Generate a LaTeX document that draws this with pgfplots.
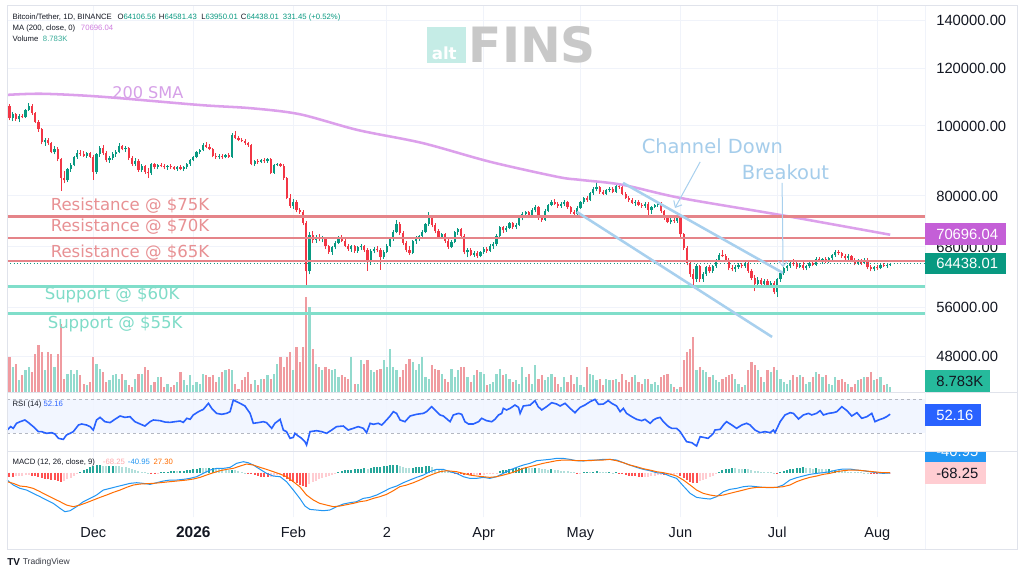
\documentclass[border=0pt]{standalone}
\usepackage{fontspec}
\setmainfont{Liberation Sans}
\newfontfamily\dv{DejaVu Sans}
\usepackage{pgfplots}
\pgfplotsset{compat=1.18}
\usepackage{pgfplotstable}
\usetikzlibrary{arrows.meta}

\definecolor{up}{RGB}{8,153,129}
\definecolor{dn}{RGB}{242,54,69}
\definecolor{vup}{RGB}{146,218,205}
\definecolor{vdn}{RGB}{240,155,160}
\definecolor{txt}{RGB}{19,23,34}
\definecolor{gridc}{RGB}{240,243,250}
\definecolor{framec}{RGB}{224,227,235}
\definecolor{sma}{RGB}{220,160,235}
\definecolor{smatxt}{RGB}{214,160,232}
\definecolor{smabox}{RGB}{196,95,215}
\definecolor{res}{RGB}{229,132,137}
\definecolor{restxt}{RGB}{232,145,148}
\definecolor{sup}{RGB}{128,222,202}
\definecolor{suptxt}{RGB}{128,220,200}
\definecolor{chan}{RGB}{168,208,238}
\definecolor{chantxt}{RGB}{165,205,235}
\definecolor{rsiband}{RGB}{240,245,255}
\definecolor{rsiline}{RGB}{41,98,255}
\definecolor{bandline}{RGB}{180,184,194}
\definecolor{macdc}{RGB}{33,150,243}
\definecolor{sigc}{RGB}{255,109,0}
\definecolor{hA}{RGB}{38,166,154}
\definecolor{hB}{RGB}{178,223,219}
\definecolor{hC}{RGB}{255,82,82}
\definecolor{hD}{RGB}{255,205,210}
\definecolor{volbox}{RGB}{38,186,156}
\definecolor{logobox}{RGB}{197,236,230}
\definecolor{logotxt}{RGB}{200,200,200}

\pgfplotstableread{
d o h l c v
-26 106500 107200 101800 102600 58
-25 102600 104500 101500 103900 42
-24 103900 104200 101700 102100 46
-23 102100 103800 101200 103300 20
-22 103300 104000 102400 102800 28
-21 102800 105600 102500 105200 37
-20 105200 107500 104800 106600 42
-19 106600 107100 103600 104100 33
-18 104100 104600 100900 101400 63
-17 101400 102000 98200 98900 78
-16 98900 99400 94300 94900 66
-15 94900 96300 93900 95700 37
-14 95700 96100 94200 94600 66
-13 94600 95000 91600 92100 63
-12 92100 93800 91300 93000 42
-11 93000 93400 89300 89900 63
-10 89900 90400 81300 84700 113
-9 84700 86600 83300 84100 22
-8 84100 87500 83600 87100 30
-7 87100 88800 86400 88400 37
-6 88400 90800 87900 90500 30
-5 90500 92600 90000 91800 37
-4 91800 92500 90800 91400 28
-3 91400 92200 90600 91000 13
-2 91000 92000 90400 91600 12
-1 91600 92100 90300 90700 17
0 90700 91200 84300 86300 58
1 86300 91800 85900 91300 46
2 91300 93700 90600 93200 38
3 93200 94000 91200 91700 33
4 91700 92300 89100 89600 17
5 89600 90900 89000 90400 20
6 90400 92000 89800 91500 28
7 91500 92500 90700 92100 30
8 92100 94700 91600 93700 22
9 93700 94200 92500 93000 30
10 93000 93800 92000 93300 20
11 93300 93600 89700 90200 12
12 90200 90900 88100 88600 8
13 88600 90200 88000 89500 22
14 89500 89900 86400 86900 30
15 86900 88600 86300 87900 30
16 87900 88300 85900 86400 42
17 86400 87400 84700 86000 37
18 86000 88900 85600 88500 12
19 88500 88900 87300 87800 17
20 87800 88600 87100 88200 25
21 88200 89000 87600 88000 25
22 88000 88500 87200 87700 8
23 87700 88400 87000 87900 13
24 87900 88700 87300 87600 8
25 87600 88100 86900 87300 12
26 87300 88000 86700 87700 17
27 87700 88200 86800 87200 33
28 87200 88000 86600 87800 20
29 87800 88900 87300 88600 12
30 88600 90100 88100 89800 28
31 89800 91000 89300 90600 12
32 90600 92300 90200 91900 17
33 91900 93000 91400 92600 13
34 92600 94700 92200 94200 30
35 94200 95000 93100 93600 28
36 93600 94300 92500 92900 25
37 92900 93300 90500 91000 28
38 91000 91600 90000 90500 17
39 90500 91400 89900 90900 25
40 90900 91300 90100 90500 33
41 90500 91500 90200 91100 37
42 91100 91600 90300 90700 38
43 90700 97800 90400 97000 37
44 97000 98400 95900 96300 13
45 96300 96800 95200 95700 5
46 95700 96300 95000 95400 20
47 95400 95900 94200 94600 25
48 94600 95100 93600 94000 33
49 94000 94300 88200 88600 13
50 88600 89800 88000 89400 20
51 89400 90000 88700 89100 12
52 89100 90100 88800 89800 22
53 89800 90200 89000 89300 22
54 89300 90400 89000 90000 28
55 90000 90300 85700 86200 22
56 86200 88600 85900 88300 30
57 88300 89000 87900 88500 46
58 88500 88900 87800 88100 58
59 88100 88500 84300 84700 42
60 84700 85100 79200 79600 58
61 79600 80400 77100 77600 66
62 77600 79300 76700 78400 37
63 78400 78900 75900 76400 75
64 76400 77100 75600 76000 50
65 76000 76400 72900 73400 75
66 73400 73900 60200 62900 158
67 62900 71400 62300 70700 141
68 70700 71600 68800 69500 71
69 69500 70700 68900 70300 46
70 70300 70800 69200 69700 42
71 69700 70400 69000 69900 37
72 69900 70200 67600 68100 42
73 68100 68400 66500 66900 38
74 66900 68300 66300 67900 37
75 67900 69200 67500 68900 38
76 68900 70500 68600 70100 25
77 70100 70600 69100 69400 28
78 69400 69700 67900 68200 25
79 68200 68600 67200 67600 22
80 67600 68500 67000 68100 58
81 68100 68500 66700 67200 13
82 67200 68300 66800 67900 13
83 67900 68600 67300 68200 53
84 68200 68500 67000 67400 46
85 67400 67800 63000 64800 53
86 64800 67500 64300 67100 37
87 67100 68000 66600 67600 33
88 67600 68100 66900 67300 37
89 67300 67700 63200 65900 38
90 65900 67400 65500 67000 53
91 67000 68600 66600 68300 42
92 68300 70200 67900 69900 71
93 69900 71800 69400 71400 42
94 71400 74000 71000 73200 37
95 73200 73600 70700 71100 25
96 71100 71500 68400 68900 37
97 68900 69300 66900 67300 46
98 67300 68200 66300 66800 55
99 66800 69600 66400 69200 50
100 69200 70500 68700 70100 37
101 70100 70700 69300 70400 46
102 70400 71700 69900 71300 58
103 71300 73500 71000 73100 25
104 73100 76100 72700 75000 22
105 75000 75400 72400 72900 45
106 72900 73300 71000 71500 38
107 71500 72100 69800 70300 37
108 70300 71200 69700 70800 30
109 70800 71100 68900 69300 22
110 69300 69700 67600 68000 17
111 68000 69500 67700 69100 38
112 69100 71600 68800 71300 25
113 71300 72300 70600 71900 37
114 71900 72200 70000 70500 42
115 70500 70900 66400 66900 42
116 66900 67800 65800 67300 25
117 67300 67700 66000 66300 17
118 66300 67200 65900 66800 28
119 66800 67100 65700 66100 37
120 66100 67100 65800 66900 33
121 66900 67900 66500 67500 30
122 67500 68000 66800 67200 12
123 67200 68600 66900 68300 13
124 68300 69000 67600 68600 17
125 68600 70800 68200 70400 30
126 70400 72800 70100 72400 38
127 72400 72800 71200 71700 28
128 71700 72600 71400 72300 30
129 72300 73600 71900 73300 22
130 73300 73700 72100 72500 17
131 72500 73300 72000 73000 20
132 73000 74900 72700 74500 13
133 74500 75900 74000 75500 42
134 75500 76300 74900 75900 25
135 75900 76200 74500 74900 30
136 74900 76900 74600 76500 13
137 76500 77700 75900 77200 45
138 77200 77500 74200 74600 22
139 74600 75100 73700 74200 28
140 74200 76700 73900 76300 20
141 76300 78100 76000 77800 25
142 77800 79000 77400 78600 30
143 78600 79200 77800 78100 25
144 78100 78500 77100 77500 13
145 77500 78400 77000 78000 8
146 78000 78900 77600 78400 25
147 78400 78800 76800 77200 17
148 77200 77500 75600 76000 28
149 76000 76500 75100 75600 13
150 75600 77400 75300 77100 25
151 77100 78700 76800 78400 12
152 78400 79700 78000 79400 8
153 79400 80100 78600 79000 42
154 79000 81000 78700 80700 30
155 80700 82400 80300 81800 28
156 81800 83600 81200 82200 20
157 82200 82500 80600 81000 22
158 81000 81500 80200 80600 12
159 80600 81900 80300 81500 22
160 81500 82400 80900 81900 20
161 81900 82300 80700 81100 20
162 81100 82900 80800 82500 22
163 82500 83300 81900 82300 17
164 82300 82800 80200 80600 30
165 80600 81000 79200 79600 20
166 79600 80100 78500 78900 17
167 78900 79400 78000 78300 25
168 78300 78900 77600 78600 28
169 78600 78900 77400 77800 17
170 77800 78300 77100 77500 13
171 77500 78400 77100 78100 22
172 78100 78400 74800 76600 22
173 76600 77600 75600 77300 13
174 77300 78100 76900 77800 17
175 77800 78500 77300 78200 12
176 78200 78500 75800 76200 25
177 76200 76600 74200 74600 28
178 74600 75100 73300 73700 30
179 73700 74600 73100 74200 13
180 74200 74500 73400 73900 8
181 73900 75100 73500 74700 5
182 74700 75000 70300 70800 8
183 70800 71200 67300 67800 53
184 67800 68300 64100 64600 66
185 64600 65200 61800 62300 71
186 62300 63400 59700 61300 91
187 61300 64400 60900 63900 37
188 63900 64300 60800 61300 42
189 61300 62700 60900 62400 37
190 62400 64000 62000 63700 33
191 63700 64100 62500 62900 25
192 62900 64200 62600 63900 28
193 63900 65500 63600 65100 20
194 65100 66700 64800 66300 17
195 66300 67400 65800 66000 22
196 66000 66400 64800 65200 25
197 65200 65600 63100 63500 28
198 63500 64200 62900 63300 30
199 63300 64100 62800 63800 22
200 63800 64700 63400 64300 13
201 64300 64600 63500 63900 8
202 63900 65000 63600 64500 12
203 64500 64800 62600 63000 37
204 63000 63400 61200 61600 50
205 61600 62200 59000 60400 45
206 60400 61700 60000 61200 37
207 61200 61600 60100 60500 25
208 60500 61400 60000 61000 17
209 61000 61300 59900 60300 37
210 60300 61000 59900 60700 33
211 60700 61100 58500 58900 42
212 58900 61600 58000 61300 37
213 61300 62900 60900 62600 22
214 62600 63800 62200 63500 17
215 63500 64300 63000 64000 13
216 64000 65200 63600 64700 20
217 64700 65500 64000 64400 28
218 64400 65100 63400 63800 25
219 63800 64600 63500 64300 28
220 64300 64800 63200 63600 25
221 63600 64300 63100 63900 13
222 63900 64900 63600 64600 17
223 64600 65000 63900 64300 25
224 64300 65800 64000 65400 33
225 65400 65900 64800 65100 30
226 65100 65600 64500 65500 25
227 65500 65900 64700 65000 28
228 65000 65800 64700 65600 13
229 65600 66500 65300 66200 12
230 66200 67400 65900 67000 25
231 67000 67400 66300 66700 20
232 66700 67000 65600 66000 22
233 66000 66500 65200 65600 17
234 65600 66400 65300 66100 13
235 66100 66300 64900 65300 8
236 65300 65700 64100 64500 13
237 64500 65400 64200 65000 20
238 65000 65500 64300 64700 22
239 64700 65600 64400 65300 25
240 65300 65600 63300 63700 25
241 63700 64200 62900 63300 33
242 63300 64000 62900 63700 20
243 63700 64300 63200 63500 22
244 63500 64500 63300 64200 25
245 64200 64600 63700 64000 12
246 64000 64400 63600 64100 13
247 64106.56 64581.43 63950.01 64438.01 8.783
}\candles

\pgfplotstableread{
d r
-26.7 33.5
-25.6 37.5
-24.8 35.5
-23.8 41.4
-22.7 43.3
-21.2 45.3
-20.1 42.2
-18.6 37.5
-17.0 31.6
-16.0 31.6
-14.5 29.6
-12.9 30.4
-11.9 28.8
-10.8 23.7
-9.3 22.5
-8.3 27.6
-7.2 29.6
-6.2 31.6
-4.6 39.4
-3.6 40.6
-2.1 39.4
-1.0 37.5
0 33.5
1.0 45.3
2.1 48.4
3.6 43.3
5.2 42.2
6.7 46.1
8.3 50
9.8 48.4
11.4 49.2
12.9 43.3
14.5 40.6
16.0 38.2
17.6 43.3
18.6 45.3
20.7 44.5
22.2 42.9
23.8 42.5
25.3 43.3
26.9 44.1
27.9 42.5
29.0 47.3
30.0 46.1
31.0 51.2
32.6 55.1
34.1 57.8
35.7 64.9
36.7 59
38.2 53.1
39.8 52
41.3 53.1
42.4 55.1
43.4 68.8
44.4 66.9
45.5 64.9
47.0 61.8
48.6 53.1
49.6 41.4
51.1 42.2
52.7 43.3
53.7 42.2
55.3 35.5
56.3 41.4
57.9 46.1
58.9 33.5
59.9 31.6
61.0 23.7
62.0 24.9
62.5 29.6
63.5 26.5
64.6 23.7
65.6 19.8
66.1 15.9
67.2 31.6
69.2 32.7
70.8 31.6
72.3 29.6
73.9 33.5
75.4 37.5
77.5 38.2
79.0 33.5
80.6 35.5
82.1 37.5
83.7 35.5
84.7 30.4
85.8 41.4
86.8 40.2
88.3 41.4
89.4 39.4
90.4 43.3
90.9 45.3
92.0 50
93.0 55.1
94.0 53.1
95.1 45.3
96.6 43.3
98.2 50
100.2 52
102.3 53.1
103.3 55.1
104.9 61
105.9 57.1
107.5 51.2
108.5 50
110.6 43.3
111.6 51.2
113.2 53.1
114.2 52
115.2 43.3
116.3 40.6
117.8 40.6
119.4 43.3
120.4 47.3
121.9 44.5
123.5 43.3
124.5 46.1
125.6 51.2
126.6 53.1
127.1 59
128.1 57.1
129.2 59
130.7 62.9
131.8 60.2
132.3 53.1
133.3 61.8
135.4 62.9
136.9 68
137.9 61
139.0 57.1
140.5 61
142.1 65.7
143.6 64.1
144.7 61.8
146.2 64.9
147.8 59
149.3 53.9
150.9 60.2
152.4 62.9
154.0 66.9
155.5 69.6
156.6 63.7
158.1 64.1
159.6 68
160.7 64.9
162.2 61.8
163.3 55.1
164.3 59
165.3 53.1
166.9 49.2
168.4 46.1
170.0 44.5
171.0 46.1
172.6 41.4
173.6 45.3
174.6 47.3
175.7 48.4
176.7 43.3
178.3 37.5
179.3 35.5
180.8 35.5
181.9 31.6
182.9 25.7
183.9 19.8
185.5 18.6
187.0 14.7
188.1 25.7
189.1 24.9
190.6 23.7
192.2 29.6
192.7 33.5
194.3 34.3
195.3 39.4
196.3 43.3
197.9 39.4
199.4 35.5
201.0 39.4
202.5 41.4
203.6 39.4
205.1 33.5
206.7 30.4
208.2 31.6
209.8 30.4
210.8 33.5
211.3 30.4
212.9 43.3
214.4 51.2
216.0 53.9
217.0 53.1
218.6 46.5
220.1 51.2
221.7 53.1
222.7 51.2
224.2 53.1
225.3 56.3
226.3 51.2
227.9 53.1
229.4 53.9
230.5 55.1
232.0 61
233.6 56.3
235.1 50
236.7 53.9
238.2 47.3
239.8 49.2
241.3 53.1
242.3 43.3
243.4 45.3
244.9 47.3
245.9 49.2
247.0 52.16
}\rsidata

\pgfplotstableread{
d m
-26.7 -1100
-24.8 -1850
-22.7 -2350
-20.7 -2600
-18.6 -3100
-16.5 -3600
-14.5 -4100
-12.4 -4600
-10.3 -5350
-8.8 -5850
-7.2 -5700
-5.2 -5100
-3.1 -4350
-1.0 -3850
1.0 -3350
3.1 -2600
5.2 -2350
7.2 -2100
9.3 -1850
11.4 -1600
13.4 -1500
15.5 -1600
17.6 -1750
19.6 -1500
21.7 -1250
23.8 -1100
25.8 -1100
27.9 -1000
30.0 -850
32.0 -600
34.1 -100
36.2 400
38.2 650
40.3 650
42.4 800
44.4 1400
46.5 1650
48.0 1500
49.6 1150
51.7 500
53.7 -100
55.8 -500
57.9 -600
59.9 -1350
62.0 -2600
64.0 -3850
65.6 -5000
67.1 -5500
69.2 -5600
71.3 -5700
73.3 -5600
75.4 -5100
77.5 -4700
79.5 -4500
81.6 -4350
83.7 -3850
85.7 -3700
87.8 -3350
89.9 -2850
91.9 -2350
94.0 -2000
96.1 -1500
98.1 -1100
100.2 -700
102.3 -350
104.3 150
106.4 500
108.5 500
110.5 150
112.6 -100
114.7 -600
116.7 -850
118.8 -850
120.9 -700
122.9 -850
125.0 -600
127.1 -100
129.1 400
131.2 800
133.3 1150
135.3 1400
137.4 1800
139.4 1900
141.5 2000
143.6 2150
145.6 2150
147.7 2000
149.8 1800
151.9 1750
153.9 1900
156.0 1900
158.1 2000
160.1 2000
162.2 1900
164.3 1500
166.3 1150
168.4 800
170.5 500
172.5 300
174.6 0
176.7 -100
178.7 -500
180.8 -850
182.9 -2000
185.0 -3100
187.0 -3700
189.1 -3850
191.2 -3950
193.2 -3600
195.3 -2850
197.3 -2500
199.4 -2350
201.5 -2100
203.5 -2000
205.6 -2100
207.6 -2200
209.7 -2250
211.8 -2200
213.8 -1850
215.9 -1100
218.0 -750
220.0 -500
222.1 -250
224.2 -100
226.2 0
228.3 150
230.4 400
232.4 550
234.5 550
236.6 400
238.6 300
240.7 150
242.8 0
244.8 -100
247.0 -40.95
}\macddata

\pgfplotstableread{
d s
-26.7 -1350
-24.8 -1600
-22.7 -2000
-20.7 -2100
-18.6 -2350
-16.5 -2850
-14.5 -3350
-12.4 -3850
-10.3 -4350
-8.3 -4850
-6.2 -5100
-4.1 -4850
-2.1 -4500
0 -4100
2.1 -3700
4.1 -3350
6.2 -2950
8.3 -2600
10.3 -2200
12.4 -1850
14.5 -1700
16.5 -1650
18.6 -1600
20.7 -1500
22.7 -1400
24.8 -1300
26.9 -1200
28.9 -1100
31.0 -950
33.1 -700
35.1 -350
37.2 0
39.3 300
41.3 500
43.4 650
45.5 1000
47.5 1300
49.6 1150
51.7 800
53.7 500
55.8 150
57.9 -200
59.9 -600
62.0 -1350
64.0 -2100
66.1 -3350
68.2 -4100
70.2 -4600
72.3 -4850
74.4 -5100
76.4 -5000
78.5 -4800
80.6 -4600
82.6 -4350
84.7 -4200
86.8 -3850
88.8 -3600
90.9 -3250
93.0 -2700
95.0 -2100
97.1 -1850
99.2 -1500
101.2 -1100
103.3 -600
105.4 -200
107.4 150
109.5 300
111.6 200
112.6 150
114.7 -100
116.7 -350
118.8 -500
120.9 -600
122.9 -700
125.0 -600
127.1 -350
129.1 -100
131.2 250
133.3 650
135.3 900
137.4 1150
139.4 1400
141.5 1600
143.6 1800
145.6 1900
147.7 1900
149.8 1800
151.9 1800
153.9 1800
156.0 1900
158.1 1900
160.1 2000
162.2 1800
164.3 1500
166.3 1150
168.4 900
170.5 600
172.5 400
174.6 150
176.7 0
178.7 -200
180.8 -500
182.9 -1100
185.0 -1850
187.0 -2600
189.1 -3100
191.2 -3350
193.2 -3500
195.3 -3350
197.3 -3100
199.4 -2850
201.5 -2600
203.5 -2350
205.6 -2200
207.6 -2200
209.7 -2200
211.8 -2200
213.8 -2100
215.9 -1850
218.0 -1350
220.0 -1000
222.1 -700
224.2 -500
226.2 -250
228.3 -100
230.4 150
232.4 300
234.5 400
236.6 400
238.6 300
240.7 200
242.8 100
244.8 0
247.0 27.30
}\sigdata

\pgfplotstableread{
d v k
-26 -650 3
-25 -700 3
-24 -550 4
-23 -480 4
-22 -420 4
-21 -380 4
-20 -350 4
-19 -420 3
-18 -560 3
-17 -700 3
-16 -850 3
-15 -950 3
-14 -1000 3
-13 -1050 3
-12 -1100 3
-11 -1200 3
-10 -1350 3
-9 -1300 4
-8 -1000 4
-7 -750 4
-6 -500 4
-5 -250 4
-4 150 1
-3 400 1
-2 600 1
-1 800 1
0 950 1
1 1100 1
2 1150 1
3 1050 2
4 950 2
5 1000 1
6 1050 1
7 1000 2
8 950 2
9 900 2
10 800 2
11 650 2
12 500 2
13 350 2
14 250 2
15 150 2
16 80 2
17 30 2
18 -80 3
19 -100 3
20 -50 4
21 100 1
22 150 1
23 180 1
24 200 1
25 220 1
26 200 2
27 220 1
28 280 1
29 350 1
30 420 1
31 500 1
32 620 1
33 720 1
34 700 2
35 650 2
36 700 1
37 780 1
38 650 2
39 550 2
40 500 2
41 480 2
42 450 2
43 480 1
44 380 2
45 250 2
46 120 2
47 20 2
48 -100 3
49 -250 3
50 -400 3
51 -500 3
52 -600 3
53 -650 3
54 -700 3
55 -650 4
56 -500 4
57 -400 4
58 -350 4
59 -600 3
60 -900 3
61 -1200 3
62 -1400 3
63 -1600 3
64 -1800 3
65 -2000 3
66 -2100 3
67 -1650 4
68 -1400 4
69 -1200 4
70 -1000 4
71 -850 4
72 -700 4
73 -550 4
74 -350 4
75 -150 4
76 150 1
77 300 1
78 350 1
79 400 1
80 450 1
81 500 1
82 550 1
83 600 1
84 650 1
85 620 2
86 700 1
87 800 1
88 850 1
89 900 1
90 950 1
91 1000 1
92 1100 1
93 1150 1
94 1200 1
95 1000 2
96 850 2
97 750 2
98 700 2
99 750 1
100 800 1
101 850 1
102 900 1
103 950 1
104 1000 1
105 800 2
106 600 2
107 450 2
108 350 2
109 250 2
110 150 2
111 50 2
112 -100 3
113 -150 3
114 -200 3
115 -300 3
116 -350 3
117 -400 3
118 -350 4
119 -300 4
120 -350 3
121 -300 4
122 -250 4
123 -200 4
124 -150 4
125 -50 4
126 200 1
127 350 1
128 450 1
129 550 1
130 600 1
131 650 1
132 700 1
133 750 1
134 800 1
135 750 2
136 700 2
137 750 1
138 650 2
139 550 2
140 500 2
141 480 2
142 500 1
143 450 2
144 400 2
145 300 2
146 250 2
147 200 2
148 100 2
149 50 2
150 -80 3
151 -50 4
152 80 1
153 100 1
154 50 2
155 120 1
156 200 1
157 150 2
158 100 2
159 50 2
160 80 1
161 20 2
162 40 1
163 -50 3
164 -200 3
165 -350 3
166 -450 3
167 -500 3
168 -550 3
169 -600 3
170 -650 3
171 -620 4
172 -600 4
173 -500 4
174 -450 4
175 -400 4
176 -380 4
177 -400 3
178 -380 4
179 -350 4
180 -300 4
181 -250 4
182 -500 3
183 -800 3
184 -1100 3
185 -1350 3
186 -1500 3
187 -1600 3
188 -1300 4
189 -1100 4
190 -900 4
191 -700 4
192 -450 4
193 -200 4
194 150 1
195 350 1
196 500 1
197 600 1
198 650 1
199 650 2
200 620 2
201 600 2
202 620 1
203 600 2
204 450 2
205 300 2
206 200 2
207 150 2
208 100 2
209 80 2
210 50 2
211 20 2
212 -30 3
213 50 1
214 200 1
215 350 1
216 500 1
217 600 1
218 700 1
219 750 1
220 800 1
221 750 2
222 650 2
223 600 2
224 650 1
225 600 2
226 550 2
227 500 2
228 520 1
229 450 2
230 450 1
231 400 2
232 300 2
233 200 2
234 150 2
235 100 2
236 80 2
237 60 2
238 50 2
239 30 2
240 10 2
241 -100 3
242 -200 3
243 -250 3
244 -220 4
245 -250 3
246 -150 4
247 -68.25 4
}\histdata

\pgfplotsset{
  panel/.style={scale only axis, anchor=north west, width=688.5pt,
    xmin=-26.75, xmax=257.8, axis line style={draw=none},
    major tick length=0pt, tick style={draw=none},
    xtick={0,31,62,91,121,151,182,212,243}, xticklabels={},
    ytick=\empty},
  gridon/.style={xmajorgrids, major grid style={draw=gridc, line width=0.75pt}},
  mainbox/.style={at={(5.25pt,-4.5pt)}, height=289.5pt},
  ebar/.style 2 args={only marks, mark=*, mark size=0pt,
    mark options={draw=none, fill=none, draw opacity=0, fill opacity=0},
    error bars/y dir=plus, error bars/y explicit,
    error bars/error mark=none,
    error bars/error bar style={draw=#1, line width=#2, draw opacity=1}},
}

\begin{document}
\begin{tikzpicture}
\path[use as bounding box, fill=white] (0,0) rectangle (768pt,-429.75pt);

% ---------- main panel grid + price scale ----------
\begin{axis}[panel, mainbox, ymode=log, ymin=42830, ymax=146590, gridon, ymajorgrids,
  ytick={48000,56000,68000,80000,100000,120000,140000},
  yticklabels={48000.00,56000.00,68000.00,80000.00,100000.00,120000.00,140000.00},
  yticklabel pos=right,
  yticklabel style={anchor=west, inner sep=0pt, xshift=8.25pt,
    font=\fontsize{11.1}{13}\selectfont, text=txt}]
\addplot[draw=none] coordinates {(0,60000)};
\end{axis}

% ---------- volume ----------
\begin{axis}[panel, mainbox, ymin=0, ymax=640.8, hide axis]
\addplot[ycomb, draw=vup, line width=1.65pt]
  table[x=d, y expr={(\thisrow{c}>=\thisrow{o})*\thisrow{v}}]{\candles};
\addplot[ycomb, draw=vdn, line width=1.65pt]
  table[x=d, y expr={(\thisrow{c}<\thisrow{o})*\thisrow{v}}]{\candles};
\end{axis}

% ---------- candles, SMA, drawings ----------
\begin{axis}[panel, mainbox, ymode=log, ymin=42830, ymax=146590]
\addplot[ebar={up}{0.6pt}]
  table[x=d, y=l, y error plus expr={(\thisrow{c}>=\thisrow{o})*(\thisrow{h}-\thisrow{l})}]{\candles};
\addplot[ebar={dn}{0.6pt}]
  table[x=d, y=l, y error plus expr={(\thisrow{c}<\thisrow{o})*(\thisrow{h}-\thisrow{l})}]{\candles};
\addplot[ebar={up}{1.65pt}]
  table[x=d, y=o, y error plus expr={max(\thisrow{c}-\thisrow{o},0)}]{\candles};
\addplot[ebar={dn}{1.65pt}]
  table[x=d, y=c, y error plus expr={max(\thisrow{o}-\thisrow{c},0)}]{\candles};
\addplot[up, dotted, line width=0.5pt] coordinates {(-26.75,64438) (257.8,64438)};
\addplot[sma, line width=1.9pt, smooth] coordinates {
 (-26.7,110400) (-16,110800) (2,109800) (33,106900) (49,105800) (64,103800)
 (82,98700) (102,94700) (123,89200) (144,85000) (151,84200) (164,82900)
 (182,79500) (213,75300) (247,70700)};
\addplot[res, line width=2pt] coordinates {(-26.75,75000) (257.8,75000)};
\addplot[res, line width=2pt] coordinates {(-26.75,70000) (257.8,70000)};
\addplot[res, line width=2pt] coordinates {(-26.75,65000) (257.8,65000)};
\addplot[sup, line width=2pt] coordinates {(-26.75,60000) (257.8,60000)};
\addplot[sup, line width=2pt] coordinates {(-26.75,55000) (257.8,55000)};
\addplot[chan, line width=1.9pt] coordinates {(164.2,83390) (213.8,62590)};
\addplot[chan, line width=1.9pt] coordinates {(149.9,76030) (210.4,51040)};
\addplot[chan, line width=0.75pt, -{Straight Barb[length=4pt,width=7pt]}] coordinates {(188.1,89160) (180.3,77000)};
\addplot[chan, line width=0.75pt, -{Straight Barb[length=4pt,width=7pt]}] coordinates {(213.5,83390) (213.8,63780)};
\end{axis}

% ---------- RSI ----------
\begin{axis}[panel, gridon, at={(5.25pt,-294pt)}, height=44.25pt, ymin=8.82, ymax=78.24]
\fill[rsiband, opacity=0.85] (axis cs:-26.75,30) rectangle (axis cs:257.8,70);
\draw[bandline, line width=0.6pt, dash pattern=on 2.25pt off 2.25pt] (axis cs:-26.75,70) -- (axis cs:257.8,70);
\draw[bandline, line width=0.6pt, dash pattern=on 2.25pt off 2.25pt] (axis cs:-26.75,30) -- (axis cs:257.8,30);
\addplot[rsiline, line width=1.2pt] table[x=d, y=r]{\rsidata};
\end{axis}

% ---------- MACD ----------
\begin{axis}[panel, gridon, at={(5.25pt,-338.25pt)}, height=49.5pt, ymin=-6645, ymax=3255,
  xticklabels={Dec,{\bfseries\fontsize{11.6}{13}\selectfont 2026},Feb,2,Apr,May,Jun,Jul,Aug},
  xticklabel style={anchor=base, yshift=-15pt, font=\fontsize{10.9}{13}\selectfont, text=txt}]
\addplot[ycomb, draw=hA, line width=1.5pt] table[x=d, y expr={(\thisrow{k}==1)*\thisrow{v}}]{\histdata};
\addplot[ycomb, draw=hB, line width=1.5pt] table[x=d, y expr={(\thisrow{k}==2)*\thisrow{v}}]{\histdata};
\addplot[ycomb, draw=hC, line width=1.5pt] table[x=d, y expr={(\thisrow{k}==3)*\thisrow{v}}]{\histdata};
\addplot[ycomb, draw=hD, line width=1.5pt] table[x=d, y expr={(\thisrow{k}==4)*\thisrow{v}}]{\histdata};
\addplot[macdc, line width=0.75pt] table[x=d, y=m]{\macddata};
\addplot[sigc, line width=0.75pt] table[x=d, y=s]{\sigdata};
\end{axis}

% ---------- overlay (pixel units) ----------
\begin{scope}[x=0.75pt, y=-0.75pt]
\draw[framec, line width=0.75pt] (7,6) rectangle (1017,549);
\draw[framec, line width=0.75pt] (7,392) -- (1017,392);
\draw[framec, line width=0.75pt] (7,451) -- (1017,451);
\draw[gridc, line width=0.75pt] (925,6) -- (925,549);

\fill[logobox] (427,27) rectangle (466,63);
\node[anchor=base west, inner sep=0pt, text=white, font=\fontsize{12.5}{14}\dv\bfseries] at (431.5,60) {alt};
\node[anchor=base west, inner sep=0pt, text=logotxt, font=\fontsize{36.5}{38}\dv\bfseries] at (468.5,63) {FINS};

\begin{scope}[every node/.style={anchor=base west, inner sep=0pt, text=txt, font=\fontsize{5.8}{7}\selectfont}]
\node at (12.3,19.4) {Bitcoin/Tether, 1D, BINANCE};
\node at (117.3,19.4) {O\textcolor{up}{64106.56}};
\node at (158.7,19.4) {H\textcolor{up}{64581.43}};
\node at (201,19.4) {L\textcolor{up}{63950.01}};
\node at (240.7,19.4) {C\textcolor{up}{64438.01}};
\node at (282.7,19.4) {\textcolor{up}{331.45 (+0.52\%)}};
\node at (12.3,31) {MA (200, close, 0)};
\node at (80.7,31) {\textcolor{smabox!80}{70696.04}};
\node at (12.3,42) {Volume};
\node at (42.7,42) {\textcolor{up!80}{8.783K}};
\node at (12.3,406.7) {RSI (14)};
\node at (43.3,406.7) {\textcolor{rsiline}{52.16}};
\node at (12.3,464.4) {MACD (12, 26, close, 9)};
\node at (102.7,464.4) {\textcolor{hD!70!hC}{-68.25}};
\node at (127.7,464.4) {\textcolor{macdc}{-40.95}};
\node at (153.3,464.4) {\textcolor{sigc}{27.30}};
\end{scope}

\node[anchor=base west, inner sep=0pt, text=smatxt, font=\fontsize{12.1}{14}\dv] at (112,98.7) {200 SMA};
\begin{scope}[every node/.style={anchor=base west, inner sep=0pt, font=\fontsize{12.4}{14}\dv}]
\node[text=restxt] at (50.5,211) {Resistance @ \$75K};
\node[text=restxt] at (50.5,232) {Resistance @ \$70K};
\node[text=restxt] at (50.5,258) {Resistance @ \$65K};
\node[text=suptxt] at (44.5,300) {Support @ \$60K};
\node[text=suptxt] at (47.5,329) {Support @ \$55K};
\end{scope}
\node[anchor=base west, inner sep=0pt, text=chantxt, font=\fontsize{14.6}{16}\dv] at (641.5,154) {Channel Down};
\node[anchor=base west, inner sep=0pt, text=chantxt, font=\fontsize{14.6}{16}\dv] at (741.5,180) {Breakout};

\begin{scope}[every node/.style={anchor=west, inner sep=0pt, font=\fontsize{11.1}{13}\selectfont}]
\fill[smabox] (925,223) rectangle (1006,245);
\node[text=white] at (936,234) {70696.04};
\fill[up] (925,253) rectangle (1006,274);
\node[text=white] at (936,263.5) {64438.01};
\fill[volbox] (925,370) rectangle (990,392);
\node[text=txt] at (936,381) {8.783K};
\fill[rsiline] (925,404) rectangle (981,426);
\node[text=white] at (936,415) {52.16};
\begin{scope}
\clip (925,452) rectangle (1017,470);
\fill[macdc] (925,440) rectangle (986,462);
\node[text=white] at (936,451) {-40.95};
\end{scope}
\fill[hD] (925,462) rectangle (986,484);
\node[text=txt] at (936,473) {-68.25};
\end{scope}

\node[anchor=west, inner sep=0pt, text=txt, font=\fontsize{7.5}{8}\selectfont\bfseries] at (7,562) {TV};
\node[anchor=west, inner sep=0pt, text=txt!85, font=\fontsize{6.4}{8}\selectfont] at (22.5,562) {TradingView};
\end{scope}
\end{tikzpicture}
\end{document}
